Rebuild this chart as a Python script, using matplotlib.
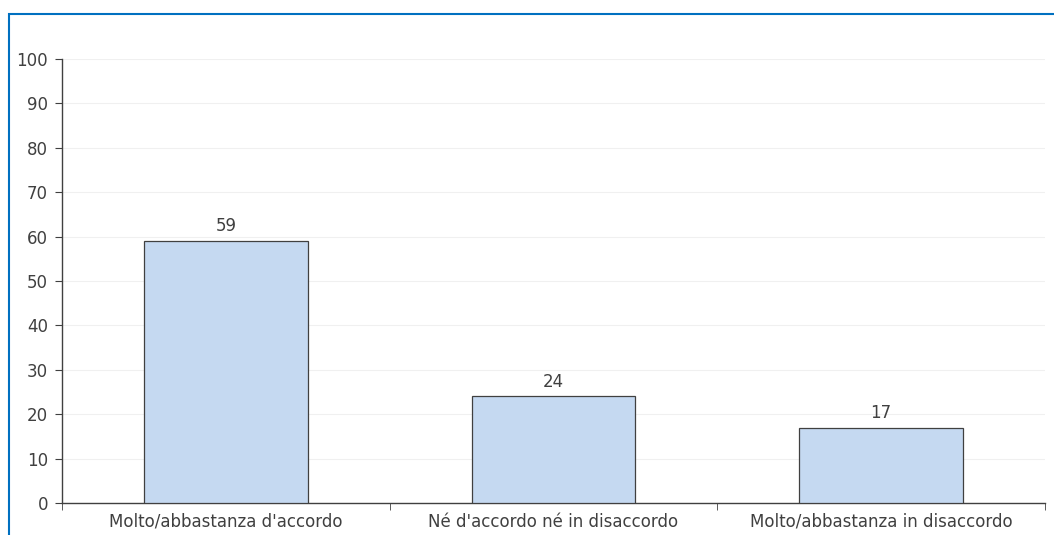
import matplotlib
matplotlib.use("Agg")
import matplotlib.pyplot as plt
from matplotlib.patches import Rectangle

categories = ["Molto/abbastanza d'accordo", "Né d'accordo né in disaccordo", "Molto/abbastanza in disaccordo"]
values = [59, 24, 17]
yticks = [0, 10, 20, 30, 40, 50, 60, 70, 80, 90, 100]

plt.rcParams['font.family'] = ['DejaVu Sans']
txt = '#404040'
fs = 12

fig = plt.figure(figsize=(10.54, 5.35), dpi=100)
fig.patches.append(Rectangle((9/1054, -0.1), 2.0, (535-14)/535 + 0.1,
                             transform=fig.transFigure, fill=False,
                             edgecolor='#0070c0', linewidth=1.5, zorder=0))
ax = fig.add_axes([62/1054, 32/535, (1045-62)/1054, (503-59)/535])

x = list(range(len(categories)))
bars = ax.bar(x, values, width=0.5, color='#c5d9f1', edgecolor='#404040', linewidth=0.9, zorder=3)
for xi, v in zip(x, values):
    ax.annotate(str(v), (xi, v), xytext=(0, 4), textcoords='offset points',
                ha='center', va='bottom', fontsize=fs, color=txt)

ax.set_xlim(-0.5, len(categories) - 0.5)
ax.set_ylim(0, 100)
ax.set_yticks(yticks)
ax.set_yticklabels([str(t) for t in yticks], fontsize=fs, color=txt)
ax.set_xticks(x)
ax.set_xticklabels(categories, fontsize=fs, color=txt)
ax.set_xticks([i - 0.5 for i in range(len(categories) + 1)], minor=True)
ax.tick_params(axis='x', which='major', length=0, pad=7)
ax.tick_params(axis='x', which='minor', length=5, color='#404040', direction='out')
ax.tick_params(axis='y', length=5, color='#404040', pad=5)
ax.yaxis.grid(True, color='#f0f0f0', linewidth=0.8, zorder=0)
ax.set_axisbelow(True)
for s in ['top', 'right']:
    ax.spines[s].set_visible(False)
for s in ['left', 'bottom']:
    ax.spines[s].set_color('#404040')
    ax.spines[s].set_linewidth(1.0)

fig.savefig('out.png', dpi=100)
